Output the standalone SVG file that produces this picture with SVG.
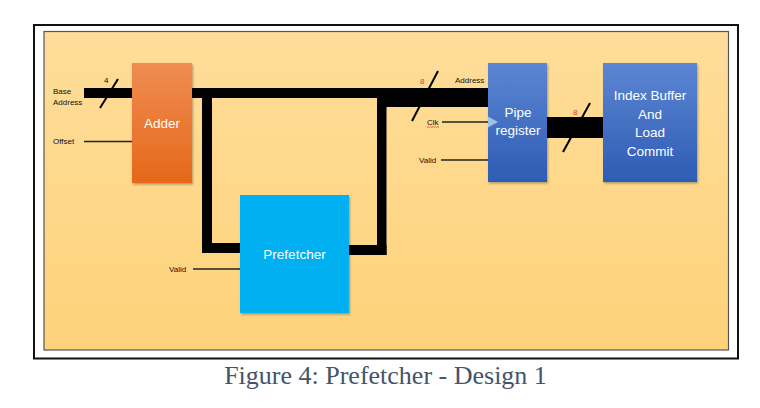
<svg xmlns="http://www.w3.org/2000/svg" width="760" height="408" viewBox="0 0 760 408">
  <defs>
    <linearGradient id="gPanel" x1="0" y1="0" x2="0" y2="1">
      <stop offset="0" stop-color="#FFDD9A"/>
      <stop offset="1" stop-color="#FDD27A"/>
    </linearGradient>
    <linearGradient id="gAdder" x1="0" y1="0" x2="0" y2="1">
      <stop offset="0" stop-color="#F08C52"/>
      <stop offset="1" stop-color="#E5681A"/>
    </linearGradient>
    <linearGradient id="gBlue" x1="0" y1="0" x2="0" y2="1">
      <stop offset="0" stop-color="#5C86D3"/>
      <stop offset="1" stop-color="#2E5CB4"/>
    </linearGradient>
    <filter id="shadow" x="-10%" y="-10%" width="125%" height="125%">
      <feDropShadow dx="1" dy="1.5" stdDeviation="1.2" flood-color="#000" flood-opacity="0.3"/>
    </filter>
  </defs>
  <style>
    .lbl { font-family: "Liberation Sans", Arial, sans-serif; font-size: 8px; fill: #111; }
    .red { font-family: "Liberation Sans", Arial, sans-serif; font-size: 8px; fill: #E8372C; }
    .box { font-family: "Liberation Sans", Arial, sans-serif; font-size: 13.5px; fill: #FFFFFF; text-anchor: middle; }
    .bus { fill: #000; }
    .wire { stroke: #222; stroke-width: 1.5; fill: none; }
    .slash { stroke: #000; stroke-width: 2; fill: none; }
    .caption { font-family: "Liberation Serif", "Times New Roman", serif; font-size: 26px; fill: #44546A; text-anchor: middle; }
  </style>

  <rect x="0" y="0" width="760" height="408" fill="#FFFFFF"/>
  <!-- frame -->
  <rect x="34" y="25" width="704" height="333.5" fill="none" stroke="#111" stroke-width="2"/>
  <rect x="44" y="31.5" width="684.5" height="318.5" fill="url(#gPanel)" stroke="#555" stroke-width="1.2"/>

  <g id="connectors">
    <!-- base address bus -->
    <rect class="bus" x="84" y="88" width="48" height="10"/>
    <!-- adder to pipe register bus -->
    <rect class="bus" x="192" y="88" width="296" height="10"/>
    <rect class="bus" x="377" y="97" width="111" height="10"/>
    <!-- loop through prefetcher -->
    <rect class="bus" x="202" y="97" width="10" height="156"/>
    <rect class="bus" x="202" y="243" width="38" height="10"/>
    <rect class="bus" x="377" y="97" width="9.5" height="158"/>
    <rect class="bus" x="349" y="245" width="37.5" height="10"/>
    <!-- pipe register to index buffer -->
    <rect class="bus" x="547" y="117" width="56" height="21"/>
    <!-- slashes -->
    <line class="slash" x1="100" y1="108" x2="118" y2="79"/>
    <line class="slash" x1="412" y1="121" x2="438" y2="71"/>
    <line class="slash" x1="563" y1="152" x2="590" y2="103"/>
    <!-- thin wires -->
    <line class="wire" x1="84" y1="141.5" x2="132" y2="141.5"/>
    <line class="wire" x1="193" y1="269" x2="240" y2="269"/>
    <line class="wire" x1="442" y1="122" x2="488" y2="122"/>
    <line class="wire" x1="441" y1="160" x2="488" y2="160"/>
    <!-- labels -->
    <text class="lbl" x="53" y="94">Base</text>
    <text class="lbl" x="53" y="105">Address</text>
    <text class="lbl" x="53" y="144">Offset</text>
    <text class="lbl" x="104" y="83">4</text>
    <text class="red" x="420" y="84">8</text>
    <text class="lbl" x="455" y="83">Address</text>
    <text class="lbl" x="427" y="125">Clk</text>
    <path d="M427,127.5 l1.2,-1 l1.2,1 l1.2,-1 l1.2,1 l1.2,-1 l1.2,1 l1.2,-1 l1.2,1 l1.2,-1 l1.2,1" stroke="#E8372C" stroke-width="0.8" fill="none"/>
    <text class="lbl" x="419" y="163">Valid</text>
    <text class="lbl" x="169" y="272">Valid</text>
    <text class="red" x="573" y="115">8</text>
  </g>

  <g id="adder">
    <rect x="132" y="63" width="60" height="120" fill="url(#gAdder)" filter="url(#shadow)"/>
    <text class="box" x="162" y="128">Adder</text>
  </g>

  <g id="prefetcher">
    <rect x="240" y="195" width="109" height="118" fill="#00B0F0" filter="url(#shadow)"/>
    <text class="box" x="294.5" y="259">Prefetcher</text>
  </g>

  <g id="pipe-register">
    <rect x="488" y="63" width="59" height="119" fill="url(#gBlue)" filter="url(#shadow)"/>
    <polygon points="488,116.5 498,122 488,127.5" fill="#9DC3E6"/>
    <text class="box" x="518" y="117">Pipe</text>
    <text class="box" x="518" y="135">register</text>
  </g>

  <g id="index-buffer">
    <rect x="603" y="63" width="94" height="119" fill="url(#gBlue)" filter="url(#shadow)"/>
    <text class="box" x="650" y="100">Index Buffer</text>
    <text class="box" x="650" y="118.5">And</text>
    <text class="box" x="650" y="137">Load</text>
    <text class="box" x="650" y="155.5">Commit</text>
  </g>

  <text class="caption" x="385.5" y="384">Figure 4: Prefetcher - Design 1</text>
</svg>
